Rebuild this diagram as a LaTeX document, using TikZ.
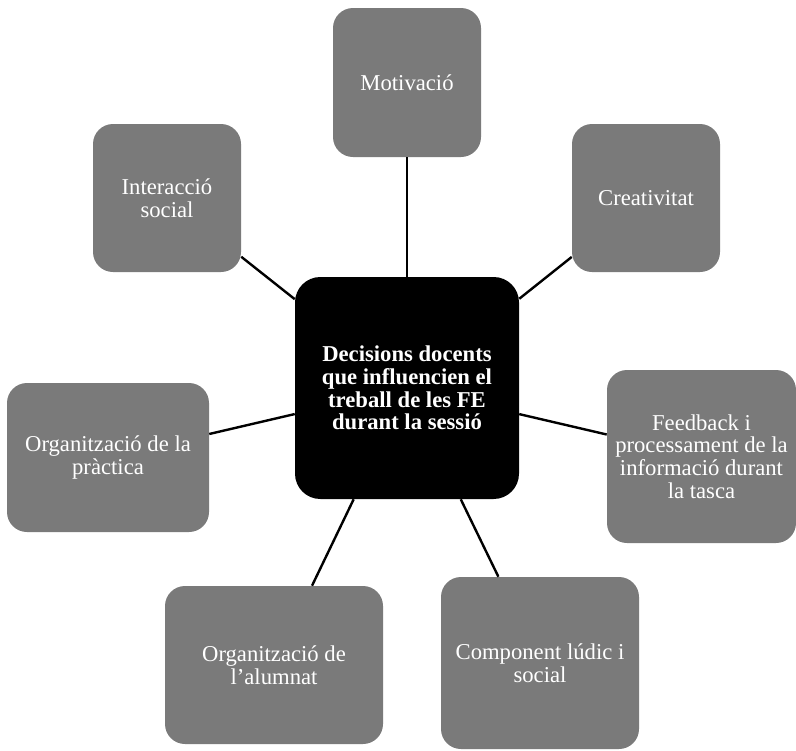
\documentclass[tikz,border=0pt]{standalone}
\usepackage{fontspec}
\setmainfont{Liberation Serif}
\definecolor{boxgray}{RGB}{122,122,122}
\begin{document}
\begin{tikzpicture}[x=0.75pt,y=-0.75pt,
  gbox/.style={draw=none,fill=boxgray,rounded corners=15pt,text=white,align=center,
    font=\fontsize{17pt}{17pt}\selectfont,inner sep=0pt},
  cbox/.style={draw=none,fill=black,rounded corners=19pt,text=white,align=center,
    font=\fontsize{17pt}{17pt}\selectfont\bfseries,inner sep=0pt,
    minimum width=168pt,minimum height=166.5pt},
  link/.style={draw=black,line width=1.8pt}]
\useasboundingbox (0,0) rectangle (796,750);
\node[cbox] (c) at (407,388) {Decisions docents\\que influencien el\\treball de les FE\\durant la sessió};
\node[gbox,minimum width=111pt,minimum height=111.75pt] (m) at (407,82.5) {Motivació};
\node[gbox,minimum width=111pt,minimum height=111pt] (i) at (167,198) {Interacció\\social};
\node[gbox,minimum width=111pt,minimum height=111pt] (cr) at (646,198) {Creativitat};
\node[gbox,minimum width=151.5pt,minimum height=111.75pt] (op) at (108,457.5) {Organització de la\\pràctica};
\node[gbox,minimum width=141.75pt,minimum height=129.75pt] (fb) at (701.5,456.5) {Feedback i\\processament de la\\informació durant\\la tasca};
\node[gbox,minimum width=163.5pt,minimum height=118.5pt] (oa) at (274,665) {Organització de\\l’alumnat};
\node[gbox,minimum width=148.5pt,minimum height=129pt] (cl) at (540,663) {Component lúdic i\\social};
\foreach \n in {m,i,cr,op,fb,oa,cl} \draw[link] (c) -- (\n);
\end{tikzpicture}
\end{document}
